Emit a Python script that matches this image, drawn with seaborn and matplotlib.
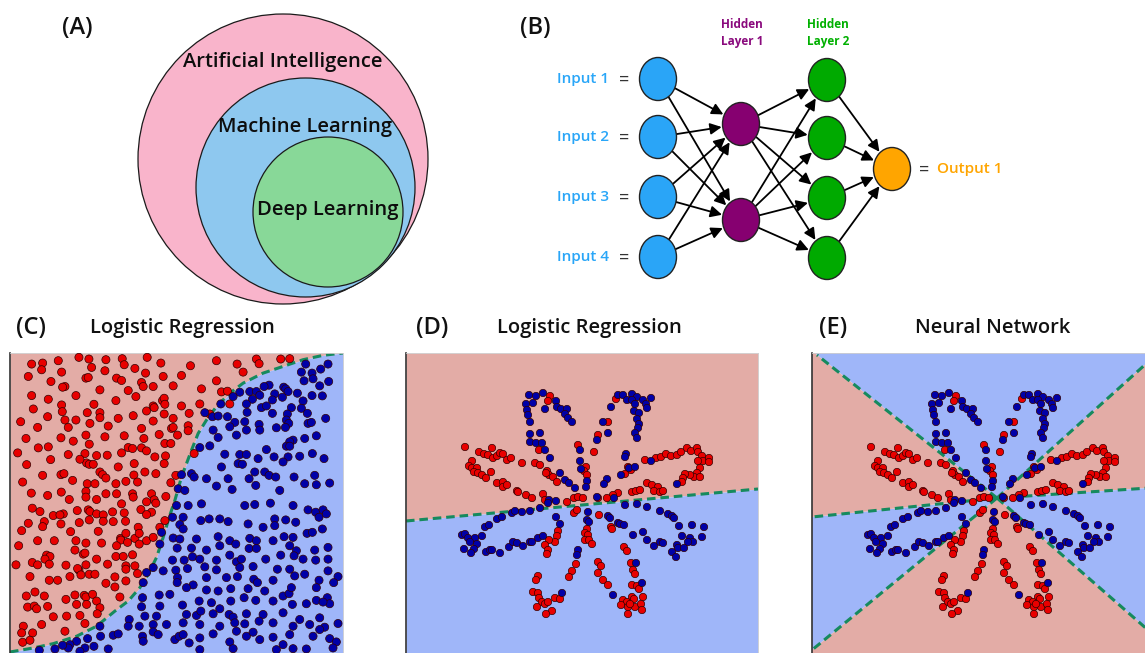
import numpy as np
import pandas as pd
import seaborn as sns
import matplotlib
matplotlib.use("Agg")
import matplotlib.pyplot as plt
from matplotlib.patches import Circle, Ellipse, Polygon
from matplotlib import font_manager as fm

sns.set_theme(style="white")
_names = {f.name for f in fm.fontManager.ttflist}
MAIN = "Open Sans" if "Open Sans" in _names else "DejaVu Sans"
NARROW = "Liberation Sans Narrow" if "Liberation Sans Narrow" in _names else MAIN
plt.rcParams['font.family'] = [MAIN, 'DejaVu Sans']
WT = "semibold"

# ---------------- data ----------------
venn_labels = ["Artificial Intelligence", "Machine Learning", "Deep Learning"]
venn_colors = ["#F9B4CB", "#8EC8EF", "#88D898"]

input_labels = ["Input 1", "Input 2", "Input 3", "Input 4"]
hidden_labels = ["Hidden\nLayer 1", "Hidden\nLayer 2"]
output_labels = ["Output 1"]
layer_sizes = [4, 2, 4, 1]
layer_colors = ["#2AA5F7", "#860070", "#00AA00", "#FFA500"]

titles = ["Logistic Regression", "Logistic Regression", "Neural Network"]
panel_tags = ["(A)", "(B)", "(C)", "(D)", "(E)"]

c_red = [(6.5,86.2),(9.8,86.5),(14.5,87.2),(20.7,88.2),(23.7,87.7),(28.8,87.5),(33.7,87.8),(34.3,86.0),
 (41.2,88.2),(45.3,86.5),(54.2,85.7),(62.0,87.2),(68.2,86.2),(74.0,87.7),(74.8,86.3),(81.3,87.7),(84.0,87.8),
 (9.5,84.5),(5.5,82.5),(15.5,83.8),(24.5,85.2),(28.5,84.2),(37.5,84.9),(40.7,83.5),(46.0,82.5),(51.5,82.8),
 (70.0,83.8),(22.8,82.0),(23.5,82.2),(12.3,81.0),(32.0,82.0),(33.5,81.3),(39.5,80.7),(40.0,79.5),(16.5,79.5),
 (15.8,79.3),(27.0,78.5),(35.5,78.3),(43.0,79.5),(49.0,79.7),(57.5,78.8),(62.0,81.2),(63.5,77.9),(65.3,78.1),
 (6.5,76.8),(11.5,75.7),(19.8,76.8),(25.2,74.2),(31.8,75.3),(37.8,76.5),(45.8,75.3),(46.3,76.0),(46.5,74.2),
 (51.5,73.7),(57.0,74.3),(66.0,74.3),(7.0,72.8),(15.5,74.0),(15.7,72.0),(23.2,71.7),(27.0,71.7),(27.0,70.2),
 (32.5,70.0),(37.0,70.8),(41.0,72.2),(43.0,73.7),(43.3,73.2),(46.3,71.3),(53.8,71.5),(60.0,71.3),(11.3,70.5),
 (16.5,69.5),(19.8,69.5),(3.2,69.0),(24.0,68.5),(43.0,69.2),(49.0,70.0),(48.5,67.0),(17.5,67.3),(8.3,67.3),
 (39.5,67.0),(53.5,67.8),(53.5,66.3),(29.5,67.7),(49.0,67.3),
 (4.8,64.0),(15.3,64.2),(22.8,65.0),(28.5,64.5),(34.3,64.8),(40.2,64.0),(44.8,65.2),(50.3,65.0),(8.5,61.2),
 (19.0,63.2),(23.8,62.3),(35.5,61.3),(36.8,61.0),(39.5,61.2),(41.0,60.3),(46.5,62.5),(48.3,62.5),(2.3,59.7),
 (11.5,61.5),(17.5,59.2),(22.5,59.5),(26.0,58.9),(29.2,59.0),(33.5,59.7),(43.5,58.5),(46.7,58.8),(55.3,59.5),
 (5.0,56.2),(12.2,57.7),(23.0,56.7),(23.8,56.3),(25.0,56.3),(32.5,55.5),(37.3,56.5),(46.3,56.5),(21.0,57.8),
 (9.8,53.0),(15.3,53.2),(16.2,53.5),(18.8,51.5),(27.0,54.0),(27.8,53.2),(28.8,52.2),(37.2,53.1),(40.5,54.0),
 (43.8,53.5),(49.8,53.0),(3.8,51.0),(23.2,50.5),(25.5,50.5),(31.8,50.5),(34.8,51.2),(38.3,51.0),(48.3,50.8),
 (6.4,47.7),(11.3,47.0),(15.4,48.0),(22.8,48.2),(22.8,46.5),(28.8,47.5),(32.0,47.5),(36.8,47.5),(37.0,46.5),
 (42.5,47.5),(43.3,45.7),(46.8,46.7),(17.8,45.8),(26.0,45.8),(33.5,44.5),(41.0,45.1),(43.8,44.7),
 (6.7,43.2),(9.0,42.2),(16.0,41.5),(13.0,41.0),(15.0,41.2),(20.2,42.5),(23.5,42.7),(24.0,42.2),(26.0,41.5),
 (28.0,41.2),(30.8,42.1),(34.3,41.8),(39.3,42.8),(42.5,42.0),(46.5,39.5),(5.5,38.7),(10.3,39.2),(15.3,38.5),
 (20.8,38.9),(23.8,39.7),(28.0,39.3),(31.0,39.2),(34.7,39.3),(41.0,41.3),(38.5,37.5),(45.0,37.5),(3.5,36.5),
 (9.8,37.7),(18.2,36.2),(26.5,36.3),(33.2,34.2),(33.3,33.7),(34.8,35.7),(37.5,34.2),(38.8,35.7),(41.0,33.5),
 (43.0,34.5),(2.6,32.0),(8.3,33.5),(13.3,33.5),(19.8,33.5),(22.8,32.8),(27.5,32.8),(32.0,32.0),(35.3,33.0),
 (38.8,32.5),
 (11.0,29.2),(12.0,28.8),(10.5,28.0),(19.5,30.7),(22.0,29.5),(22.5,29.8),(26.0,28.0),(31.8,28.8),(34.0,28.8),
 (36.8,29.3),(1.8,26.3),(6.7,27.0),(8.3,26.3),(11.8,26.5),(16.8,26.2),(20.7,24.7),(20.3,25.2),(29.3,26.5),
 (34.8,26.0),(34.8,25.0),(22.8,26.3),(37.5,26.0),(6.0,22.8),(11.8,21.7),(14.3,21.7),(18.0,22.8),(21.3,23.3),
 (23.8,23.5),(25.5,23.5),(31.5,22.7),(28.8,20.8),(31.5,19.7),(34.8,21.5),(38.3,23.7),
 (4.9,17.0),(7.5,18.2),(10.3,17.0),(19.5,17.3),(22.3,17.2),(22.8,16.7),(24.8,17.5),(16.8,16.0),(26.0,15.5),
 (33.0,16.7),(5.3,13.7),(7.3,14.0),(8.0,13.2),(11.3,13.9),(20.0,14.5),(23.0,14.5),(27.0,13.5),(13.0,10.8),
 (17.0,11.0),(21.0,11.2),(26.2,11.7),(9.5,8.5),(4.0,8.0),(6.8,6.0),(3.5,6.0),(16.5,6.5),(22.5,8.8),(3.8,3.2),
 (6.0,3.8)]

c_blue = [(95.5,86.2),(88.8,86.2),(93.3,84.7),(87.5,83.8),(90.7,83.5),(91.0,81.8),(88.3,81.2),(95.7,81.0),
 (77.8,79.9),(76.3,79.5),(82.2,79.3),(82.8,78.8),(72.0,78.0),(74.0,78.0),(83.5,78.0),(79.5,77.3),(86.3,77.5),
 (90.7,76.8),(93.0,79.7),(69.0,77.8),(67.0,76.5),(75.0,76.9),(72.8,75.7),(78.8,75.5),(81.8,76.3),(88.0,75.2),
 (93.8,76.7),
 (63.3,74.3),(71.0,74.3),(75.5,73.2),(77.0,73.7),(84.5,73.2),(87.5,73.0),(58.5,71.7),(60.8,70.5),(62.5,70.7),
 (65.3,70.5),(71.2,71.8),(78.8,71.5),(83.3,71.3),(89.3,71.5),(94.8,70.0),(67.5,68.8),(70.5,69.0),(74.8,68.2),
 (83.0,69.5),(83.7,68.5),(80.0,67.2),(89.5,68.5),(90.5,68.8),(66.0,67.5),(71.0,66.5),(75.0,66.5),(82.7,67.3),
 (61.0,66.5),
 (62.5,64.3),(68.0,65.0),(57.0,61.3),(60.0,61.8),(85.0,63.5),(84.0,63.0),(88.5,64.0),(92.0,64.8),(64.5,59.3),
 (69.0,59.2),(71.0,59.2),(77.0,60.7),(83.0,61.7),(84.0,61.7),(87.0,58.7),(83.5,58.5),(90.8,59.5),(94.3,58.0),
 (63.5,55.5),(68.5,56.5),(69.8,56.3),(74.5,58.0),(79.3,58.5),(82.0,57.0),(73.5,54.0),(76.5,54.0),(77.8,53.0),
 (79.8,52.5),(54.5,53.5),(51.5,53.2),(55.3,52.5),(59.0,52.0),(65.5,52.0),(71.8,52.0),(85.3,52.5),(91.5,53.0),
 (96.0,50.7),
 (50.5,49.0),(52.5,48.5),(62.0,49.8),(66.7,48.8),(73.8,50.0),(81.0,48.5),(88.5,50.5),(92.0,50.2),(50.0,44.0),
 (53.5,44.0),(57.5,44.5),(70.5,44.0),(73.5,44.3),(78.2,44.7),(85.0,44.0),(89.5,42.7),(91.8,42.0),(94.0,42.7),
 (48.8,40.5),(52.0,40.5),(57.3,39.5),(59.8,40.0),(63.0,40.0),(65.5,39.2),(71.5,38.5),(76.0,37.5),(79.5,40.0),
 (79.5,38.0),(82.8,39.7),(85.8,39.0),(92.8,40.5),(95.0,41.5),
 (51.0,38.3),(52.0,37.0),(45.5,36.0),(49.0,34.3),(51.0,34.0),(56.0,34.0),(62.5,34.7),(66.0,33.5),(67.8,32.5),
 (72.0,34.2),(74.0,33.5),(79.0,33.5),(82.3,34.7),(85.0,34.5),(89.2,35.7),(90.8,36.0),(93.8,37.0),(45.0,32.5),
 (50.2,31.3),(54.5,31.3),(59.0,30.7),(63.0,32.0),(71.8,31.2),(74.0,31.2),(84.0,32.0),(86.0,30.5),(91.5,30.7),
 (95.5,31.5),
 (43.0,25.5),(48.8,27.7),(52.3,27.7),(54.8,28.7),(57.0,28.0),(62.0,27.7),(66.0,29.2),(68.0,27.2),(69.5,28.0),
 (76.8,28.0),(81.3,29.2),(85.3,29.0),(88.0,28.0),(91.8,27.7),(95.5,28.0),(49.8,24.7),(46.0,24.5),(41.0,24.0),
 (53.3,25.2),(58.5,25.7),(62.0,24.8),(69.0,25.5),(73.0,25.8),(80.3,25.0),(84.0,25.0),(95.5,24.5),(40.0,21.0),
 (50.3,22.5),(50.2,21.0),(55.0,20.3),(59.0,22.5),(65.0,22.5),(68.3,22.8),(73.2,22.0),(74.3,21.0),(79.0,21.7),
 (85.5,23.0),(88.5,23.5),(98.5,22.8),(97.2,21.0),(92.8,21.7),
 (39.8,16.5),(44.8,17.3),(48.0,17.5),(53.0,19.5),(59.0,18.8),(62.5,18.5),(66.3,19.2),(71.5,19.2),(76.5,18.5),
 (82.0,17.0),(83.8,17.7),(84.5,19.5),(92.0,19.5),(95.3,16.5),(96.0,14.7),(39.5,13.8),(45.0,14.0),(51.8,14.3),
 (56.8,15.5),(60.5,15.0),(66.3,15.5),(70.3,16.5),(73.8,15.7),(79.0,15.5),(84.8,14.5),(89.0,14.7),(92.0,15.7),
 (94.0,15.2),
 (35.8,10.0),(40.5,11.0),(44.0,11.0),(53.0,11.5),(56.0,11.2),(57.3,12.5),(61.0,11.7),(63.0,13.2),(65.8,11.5),
 (67.0,10.7),(71.0,11.7),(76.0,11.5),(82.0,12.0),(87.0,10.0),(93.0,10.5),(98.5,8.8),(27.0,8.0),(35.5,8.0),
 (38.8,8.0),(43.0,8.5),(47.0,8.5),(52.0,9.0),(57.0,8.5),(63.0,8.0),(67.5,9.0),(70.5,8.7),(74.8,9.5),(79.0,9.0),
 (85.0,8.0),(90.0,8.5),(94.5,7.7),(20.0,3.5),(18.0,2.5),(17.5,1.5),(15.8,2.3),(13.5,1.2),(8.8,0.8),(23.3,4.3),
 (27.2,5.0),(31.0,5.3),(32.5,5.7),(39.8,5.0),(40.0,3.5),(43.0,6.3),(44.5,5.5),(49.5,4.0),(50.8,5.0),(52.0,5.5),
 (53.8,3.0),(57.0,4.5),(61.0,5.7),(66.0,3.3),(68.0,6.5),(71.0,5.0),(73.0,6.2),(75.0,4.0),(79.0,4.7),(82.0,2.5),
 (84.0,5.5),(91.0,5.0),(93.0,7.0),(96.0,4.3),(98.0,3.3),(25.2,2.0),(22.5,1.5),(29.5,1.2),(21.0,0.5),(57.0,1.0),
 (67.0,1.3),(80.0,1.0),(85.0,1.3),(89.0,1.2),(97.0,1.5)]

c_boundary_x = [0, 7, 13, 20, 26, 31.5, 35.5, 39, 41.5, 44, 46, 47.8, 49.5, 51.5, 53, 54.5, 56.5, 59, 62, 66,
                70, 76, 82, 88, 94, 100]
c_boundary_y = [0.3, 1.5, 2.8, 5, 8, 12.5, 15.5, 19.5, 23.5, 28.5, 34.5, 40.5, 45.5, 52.5, 56.5, 60.5, 65.5,
                69.5, 73.5, 77.5, 80.5, 83.5, 85.5, 87.5, 88.8, 89.5]

flower_red = [(-3.7,10.9),(-3.9,10.4),(-0.9,6.0),(-4.8,5.5),(-12.2,5.8),(-10.8,5.3),(-10.3,5.1),(-9.9,5.0),
 (-9.5,5.7),(-9.4,4.7),(-9.0,4.9),(-8.7,5.2),(-8.4,5.1),(-8.0,4.5),(-7.6,4.7),(-6.5,4.2),(-5.2,4.2),(-4.7,4.0),
 (-11.5,4.4),(-11.8,3.9),(-11.5,3.7),(-11.0,3.7),(-11.3,3.3),(-10.9,3.2),(-10.5,3.0),(-10.1,2.7),(-9.6,3.3),
 (-9.0,2.2),(-8.4,2.3),(-8.4,1.8),(-8.0,2.0),(-7.0,1.4),(-6.9,1.3),(-6.1,1.0),(-5.5,0.7),(-4.4,1.1),(-4.2,0.5),
 (-4.0,3.4),(-3.8,3.0),(-3.4,2.8),(-3.0,2.3),(-4.1,3.2),(-2.0,0.3),(-1.3,0.7),(-0.9,0.8),(-0.4,0.7),(-0.1,3.8),
 (-0.3,3.4),(0.0,3.0),
 (2.9,10.6),(2.1,8.3),(1.1,7.0),(0.7,5.3),(5.8,4.5),(6.9,4.7),(7.4,4.8),(7.9,5.1),(8.4,4.9),(9.0,5.0),(9.4,5.3),
 (10.0,5.7),(10.4,5.4),(11.0,5.7),(11.1,5.3),(11.5,4.9),(11.6,4.4),(11.1,4.4),(12.2,4.7),(12.2,4.3),(11.3,3.7),
 (4.1,3.8),(4.4,3.5),(3.8,3.1),(11.0,3.2),(10.7,2.8),(10.3,3.0),(9.8,3.1),(9.6,2.7),(9.5,2.3),(11.3,2.8),
 (6.0,2.2),(6.5,2.0),(7.1,1.8),(6.7,1.4),(7.3,1.3),(7.6,1.4),(4.5,1.3),(4.9,1.4),(5.3,1.5),(3.1,1.2),(2.6,1.0),
 (2.0,0.7),(1.1,0.7),
 (-1.3,-0.8),(-1.0,-0.5),(-2.9,-2.6),(-3.0,-3.1),(-3.2,-3.7),(-3.8,-3.5),(-4.2,-4.0),(-3.9,-4.5),(-4.0,-4.9),
 (0.0,-2.4),(-0.2,-2.8),(0.1,-3.0),(-0.2,-3.5),(-1.1,-5.9),(-1.5,-6.6),(-1.8,-7.2),(-4.9,-7.1),(-5.1,-7.5),
 (-5.4,-8.7),(-4.9,-8.8),(-4.8,-9.3),(-4.5,-9.7),(-4.2,-9.9),(-3.9,-9.7),(-3.2,-9.3),(-2.7,-9.4),(-5.0,-10.2),
 (-3.5,-10.6),(-4.1,-10.9),
 (1.2,-1.0),(2.4,-2.2),(2.5,-2.4),(0.2,-3.5),(0.5,-3.9),(3.7,-4.2),(4.0,-4.6),(1.1,-5.7),(1.4,-6.1),(1.1,-6.8),
 (1.6,-7.5),(2.1,-8.0),(4.4,-5.8),(4.6,-6.5),(4.8,-6.9),(4.5,-8.0),(5.0,-8.1),(5.2,-8.4),(5.6,-9.2),(4.5,-9.2),
 (4.7,-9.4),(3.6,-9.5),(4.0,-9.7),(3.4,-10.0),(4.1,-10.2),(4.8,-10.2),(5.4,-9.9),(4.3,-9.9),(5.5,-10.5),
 (4.1,-10.9)]

flower_blue = [(-5.8,11.0),(-5.1,10.9),(-4.4,11.2),(-6.1,10.1),(-5.4,10.2),(-6.0,9.5),(-4.2,9.6),(-5.9,9.0),
 (-3.1,10.4),(-3.0,9.8),(-2.6,9.6),(-2.0,9.6),(-2.2,9.1),(-1.9,8.7),(-1.5,8.3),(-5.7,8.3),(-5.7,7.1),(-4.7,7.2),
 (-5.7,6.3),(-5.1,6.2),(-4.5,6.2),(-4.2,5.5),(-3.7,4.7),(-0.7,5.5),(-0.7,4.4),(-0.6,3.6),(-2.7,3.2),(-2.2,2.5),
 (-1.8,2.2),(-1.2,1.7),(-3.8,0.5),(-3.1,0.4),(0.0,2.4),(-0.1,1.8),
 (3.1,11.0),(3.6,11.0),(4.5,11.1),(5.0,10.8),(4.0,10.5),(4.5,10.5),(4.8,10.1),(5.6,10.5),(6.4,10.7),(5.9,10.1),
 (6.0,9.7),(2.4,9.8),(4.7,9.4),(5.2,9.2),(5.0,8.6),(5.2,8.1),(5.1,7.7),(4.8,7.2),(5.0,6.7),(1.6,8.3),(2.1,7.2),
 (1.0,6.5),(3.9,5.1),(3.8,4.8),(2.0,2.6),(1.7,2.1),(3.4,3.0),(4.2,3.7),(4.8,3.8),(6.4,4.4),(9.0,2.1),(1.0,0.8),
 (2.7,0.7),
 (-9.0,-1.4),(-8.5,-1.2),(-7.5,-0.8),(-7.2,-0.6),(-6.5,-0.7),(-5.7,-0.6),(-4.7,-0.3),(-3.9,0.2),(-10.2,-2.2),
 (-9.8,-2.0),(-12.5,-3.0),(-12.2,-2.9),(-11.9,-3.3),(-11.2,-3.3),(-10.5,-3.1),(-11.7,-3.7),(-11.0,-3.9),
 (-11.3,-4.4),(-12.3,-4.4),(-11.6,-4.8),(-10.1,-4.7),(-9.7,-4.5),(-9.5,-4.5),(-8.7,-4.8),(-7.8,-4.2),(-7.4,-3.7),
 (-7.0,-3.8),(-6.4,-4.1),(-5.7,-3.7),(-5.5,-3.7),(-4.9,-3.3),(-4.4,-3.1),(-3.1,-1.2),(-2.7,-1.9),(-0.9,-4.5),
 (-1.0,-5.0),(-2.5,-8.8),(0.1,-0.7),(0.0,-1.5),
 (0.2,-1.7),(3.8,0.0),(5.0,0.1),(6.0,-0.2),(7.3,-0.6),(8.1,-0.9),(8.5,-1.1),(8.7,-1.3),(2.1,-1.1),(2.3,-1.3),
 (3.1,-1.8),(3.3,-1.9),(3.7,-2.0),(4.6,-3.0),(5.6,-2.7),(6.0,-3.5),(6.7,-4.1),(7.3,-3.7),(7.6,-3.8),(9.2,-2.1),
 (10.5,-2.0),(11.7,-2.2),(9.5,-3.1),(10.3,-3.3),(10.6,-3.7),(10.1,-3.7),(11.5,-3.2),(9.0,-4.0),(9.1,-4.3),
 (9.7,-4.3),(8.5,-4.7),(8.9,-5.2),(4.9,-5.8),(5.5,-7.8),(2.6,-9.0)]

# decision boundaries
d_boundary_x = [-18.1, 17.1]
d_boundary_y = [-1.6, 1.6]
e_center = (0.4, 0.7)
e_ray_x = [-17.6, 16.5, 17.1, 17.1, -18.1, -18.1]   # top-left, top-right, right, bottom-right, bottom-left, left
e_ray_y = [15.0, 15.2, 1.8, -13.9, -14.5, -1.2]
e_sector_class = ["blue", "red", "blue", "red", "blue", "red"]

# ---------------- style ----------------
BG = {"red": "#E3ACA6", "blue": "#9FB6F9"}
PT = {"red": "#E80000", "blue": "#0000A8"}
LINE = "#168A5E"

W, H = 1145, 653
fig = plt.figure(figsize=(W / 100, H / 100), dpi=100)
fig.patch.set_facecolor("white")

def fx(px):
    return px / W

def fy(py):
    return 1 - py / H

# ---------------- top diagrams (A) and (B) ----------------
top = fig.add_axes([0, fy(305), 1, 305 / H])
top.set_xlim(0, W)
top.set_ylim(305, 0)
top.axis("off")

venn_geom = [(283, 159, 145), (305.5, 187.5, 109.5), (328, 212, 75)]
venn_text_y = [62, 127, 210]
for (cx, cy, r), col, lab, ty in zip(venn_geom, venn_colors, venn_labels, venn_text_y):
    top.add_patch(Circle((cx, cy), r, facecolor=col, edgecolor="#1a1a1a", lw=0.9, zorder=1))
    top.text(cx, ty, lab, ha="center", va="center", fontsize=14.5, color="#0d0d0d",
             fontweight=WT, zorder=3)

# neural net
layer_x = [658, 741, 827, 892]
layer_y = [[79, 137, 197, 257], [124, 220], [80, 138, 198, 258], [169]]
node_w, node_h = 37, 43
a_, b_ = node_w / 2, node_h / 2

def edge_offset(ux, uy):
    return 1.0 / np.sqrt((ux / a_) ** 2 + (uy / b_) ** 2)

for li in range(len(layer_sizes) - 1):
    for sy in layer_y[li]:
        for ty_ in layer_y[li + 1]:
            sx, tx = layer_x[li], layer_x[li + 1]
            dx, dy = tx - sx, ty_ - sy
            L = np.hypot(dx, dy)
            ux, uy = dx / L, dy / L
            ro = edge_offset(ux, uy)
            start = (sx + ux * ro, sy + uy * ro)
            end = (tx - ux * (ro + 1), ty_ - uy * (ro + 1))
            top.annotate("", xy=end, xytext=start,
                         arrowprops=dict(arrowstyle="-|>", color="black", lw=1.3,
                                         mutation_scale=17, shrinkA=0, shrinkB=0),
                         zorder=2)

for li, n in enumerate(layer_sizes):
    for yy in layer_y[li]:
        top.add_patch(Ellipse((layer_x[li], yy), node_w, node_h, facecolor=layer_colors[li],
                              edgecolor="#222222", lw=1.0, zorder=4))

bfont = [NARROW, MAIN, "DejaVu Sans"]
in_size = 14 if NARROW != MAIN else 11
for lab, yy in zip(input_labels, layer_y[0]):
    top.text(609, yy, lab, ha="right", va="center", fontsize=in_size, color="#29A6F8",
             family=bfont, fontweight=WT)
    top.text(624, yy + 1, "=", ha="center", va="center", fontsize=in_size + 2, color="#333333", family=bfont)
top.text(924, layer_y[3][0] + 1, "=", ha="center", va="center", fontsize=in_size + 2, color="#333333",
         family=bfont)
top.text(937, layer_y[3][0], output_labels[0], ha="left", va="center", fontsize=in_size,
         color="#FFA500", family=bfont, fontweight=WT)
for lab, xx, col in zip(hidden_labels, [742, 828], ["#8A0A7D", "#00B000"]):
    top.text(xx, 33, lab, ha="center", va="center", fontsize=(10.5 if NARROW != MAIN else 8.5),
             color=col, family=bfont, fontweight="bold", linespacing=1.45)

fig.text(fx(77), fy(28), panel_tags[0], ha="center", va="center", fontsize=17, color="#111111",
         fontweight=WT)
fig.text(fx(535), fy(28), panel_tags[1], ha="center", va="center", fontsize=17, color="#111111",
         fontweight=WT)

# ---------------- bottom panels ----------------
def style_ax(ax):
    ax.set(xlabel="", ylabel="", xticks=[], yticks=[])
    for s in ax.spines.values():
        s.set_visible(True)
        s.set_color("#cfcfcf")
        s.set_linewidth(0.6)
    ax.spines["left"].set_color("#333333")
    ax.spines["left"].set_linewidth(1.2)
    ax.spines["bottom"].set_visible(False)

def points_frame(red, blue):
    df_r = pd.DataFrame(red, columns=["x", "y"]); df_r["cls"] = "red"
    df_b = pd.DataFrame(blue, columns=["x", "y"]); df_b["cls"] = "blue"
    return pd.concat([df_r, df_b], ignore_index=True)

ax_c = fig.add_axes([fx(10), 0, 333 / W, 300 / H])
ax_c.fill_between(c_boundary_x, c_boundary_y, 89.5, color=BG["red"], lw=0, zorder=0)
ax_c.fill_between(c_boundary_x, 0, c_boundary_y, color=BG["blue"], lw=0, zorder=0)
ax_c.plot(c_boundary_x, c_boundary_y, color=LINE, lw=2.2, dashes=(2.8, 1.6), zorder=2)
sns.scatterplot(data=points_frame(c_red, c_blue), x="x", y="y", hue="cls", palette=PT, s=34,
                edgecolor="#330000", linewidth=0.5, legend=False, ax=ax_c, zorder=3)
ax_c.set_xlim(0, 100)
ax_c.set_ylim(0, 89.5)
style_ax(ax_c)

flower = points_frame(flower_red, flower_blue)
XL, YL = (-18.1, 17.1), (-14.8, 15.2)

ax_d = fig.add_axes([fx(406), 0, 352 / W, 300 / H])
ax_d.fill_between(d_boundary_x, d_boundary_y, YL[1], color=BG["red"], lw=0, zorder=0)
ax_d.fill_between(d_boundary_x, YL[0], d_boundary_y, color=BG["blue"], lw=0, zorder=0)
ax_d.plot(d_boundary_x, d_boundary_y, color=LINE, lw=2.2, dashes=(2.8, 1.6), zorder=2)
sns.scatterplot(data=flower, x="x", y="y", hue="cls", palette=PT, s=28,
                edgecolor="#330000", linewidth=0.5, legend=False, ax=ax_d, zorder=3)
ax_d.set_xlim(*XL)
ax_d.set_ylim(*YL)
style_ax(ax_d)

ax_e = fig.add_axes([fx(812), 0, 352 / W, 300 / H])
cx0, cy0 = e_center
n_r = len(e_ray_x)
for i in range(n_r):
    j = (i + 1) % n_r
    p1 = (cx0 + 10 * (e_ray_x[i] - cx0), cy0 + 10 * (e_ray_y[i] - cy0))
    p2 = (cx0 + 10 * (e_ray_x[j] - cx0), cy0 + 10 * (e_ray_y[j] - cy0))
    ax_e.add_patch(Polygon([(cx0, cy0), p1, p2], closed=True, facecolor=BG[e_sector_class[i]],
                           edgecolor="none", zorder=0))
for i in range(n_r):
    ax_e.plot([cx0, e_ray_x[i]], [cy0, e_ray_y[i]], color=LINE, lw=2.2, dashes=(2.8, 1.6), zorder=2)
sns.scatterplot(data=flower, x="x", y="y", hue="cls", palette=PT, s=28,
                edgecolor="#330000", linewidth=0.5, legend=False, ax=ax_e, zorder=3)
ax_e.set_xlim(*XL)
ax_e.set_ylim(*YL)
style_ax(ax_e)

# titles
for tag, tx, title, ttx in zip(panel_tags[2:], [31, 432, 833], titles, [182, 589, 993]):
    fig.text(fx(tx), fy(328), tag, ha="center", va="center", fontsize=17, color="#111111", fontweight=WT)
    fig.text(fx(ttx), fy(328), title, ha="center", va="center", fontsize=14.5, color="#111111",
             fontweight=WT)

fig.savefig("out.png", dpi=100, facecolor="white")
